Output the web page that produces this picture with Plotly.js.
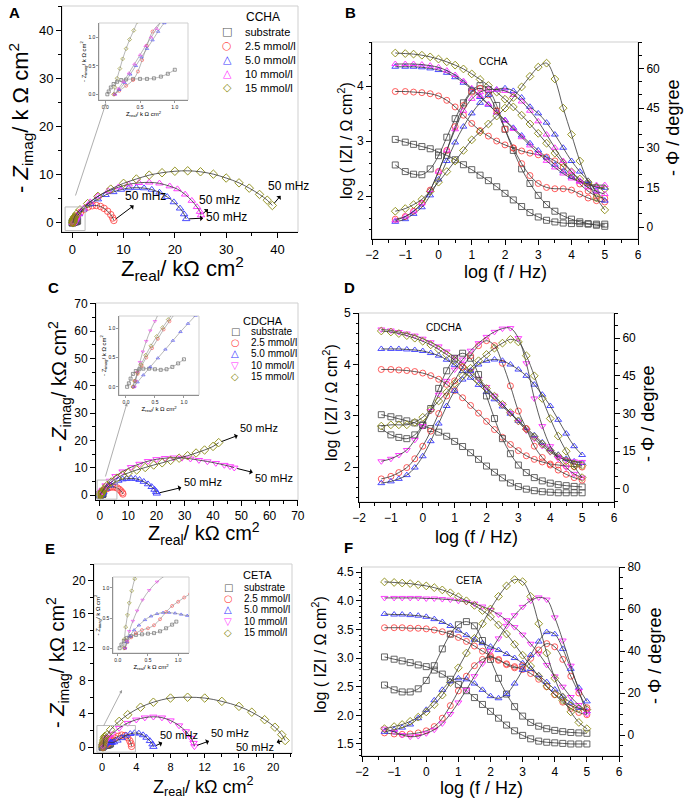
<!DOCTYPE html>
<html>
<head>
<meta charset="utf-8">
<script src="https://cdn.plot.ly/plotly-3.0.1.min.js"></script>
<style>html,body{margin:0;padding:0;background:#fff}#chart{width:687px;height:799px}</style>
</head>
<body>
<div id="chart"></div>
<script>
// ---- Bode data (log f grid shared by B, D, F) ----
const logF = [-1.3,-1,-0.75,-0.5,-0.25,0,0.25,0.5,0.75,1,1.25,1.5,1.75,2,2.25,2.5,2.75,3,3.25,3.5,3.75,4,4.25,4.5,4.75,5];

// B: CCHA
const bZsub = [3.03,2.98,2.94,2.9,2.86,2.8,2.74,2.66,2.57,2.48,2.38,2.28,2.17,2.05,1.93,1.81,1.7,1.62,1.56,1.53,1.51,1.5,1.5,1.49,1.49,1.49];
const bPsub = [23.5,21,20,19.8,22,27,34,41,47,51.5,53.5,52,46,37,29,22,16.5,12,8.5,6,4.2,3,2,1.3,0.7,0.3];
const bZ25 = [3.9,3.9,3.89,3.88,3.86,3.82,3.74,3.62,3.47,3.32,3.19,3.09,3.0,2.93,2.87,2.82,2.78,2.75,2.71,2.64,2.53,2.37,2.22,2.09,2.0,1.96];
const bP25 = [3,4,6,9,14,21,29,38,46,51,52.5,50,44,37,30,24,19.5,16.5,15,14.5,14.5,14,12.5,11,10,9.5];
const bZ50 = [4.35,4.35,4.35,4.34,4.32,4.29,4.24,4.16,4.06,3.94,3.8,3.66,3.52,3.38,3.24,3.1,2.96,2.83,2.7,2.57,2.45,2.35,2.27,2.21,2.17,2.15];
const bP50 = [2,3,5,7.5,12,18,25,32,38,43,47,50,52,52.5,51.5,49,45.5,43,39.5,35,30,25,21,17.5,13.5,10];
const bZ10 = [4.4,4.4,4.4,4.39,4.37,4.34,4.28,4.2,4.09,3.96,3.82,3.67,3.52,3.37,3.22,3.07,2.92,2.78,2.64,2.52,2.41,2.32,2.26,2.22,2.2,2.2];
const bP10 = [2.5,4,6,9,14,21,29,37,44,48.5,51,52,52,51.5,50,47.5,44,40,35,30,25,21,17.5,15,13.5,12.5];
const bZ15 = [4.6,4.59,4.58,4.56,4.53,4.49,4.44,4.38,4.31,4.22,4.12,4.01,3.89,3.76,3.62,3.47,3.31,3.14,2.96,2.78,2.6,2.44,2.31,2.22,2.16,2.13];
const bP15 = [6,7,8.5,10.5,13.5,17,21,25,29,33,36,39,42,45,49,53,57,60.5,62,56,45,35,25,17,11,6.5];

// D: CDCHA
const dZsub = [3.02,2.98,2.94,2.9,2.86,2.81,2.75,2.68,2.6,2.5,2.4,2.28,2.15,2.02,1.9,1.79,1.69,1.62,1.57,1.54,1.52,1.51,1.5,1.5,1.5,1.5];
const dPsub = [24,21.5,20.5,20,21.5,25.5,32,40,47,52,54,52,45.5,37,28,20,14,9.5,6.5,4.5,3.2,2.3,1.7,1.3,1,0.8];
const dZ25 = [3.9,3.9,3.89,3.88,3.86,3.83,3.78,3.71,3.61,3.49,3.35,3.2,3.05,2.89,2.73,2.58,2.44,2.32,2.22,2.15,2.1,2.06,2.04,2.02,2.01,2.0];
const dP25 = [4,5,6.5,8.5,12,17,23,30,37,43,48.5,53,57,59,57,50,41,31,24,17,12.5,9.5,7.5,5.8,4.5,3.5];
const dZ50 = [4.3,4.3,4.3,4.29,4.28,4.26,4.22,4.17,4.09,3.99,3.87,3.74,3.6,3.46,3.32,3.18,3.04,2.9,2.76,2.62,2.48,2.35,2.24,2.16,2.11,2.08];
const dP50 = [2.3,3,4,5.5,8.5,13,19,26,33,39,43.5,47,49.5,51,51.5,51,49.5,47.5,45,41.5,37.5,33,27.5,22,17,13.5];
const dZ10 = [4.68,4.66,4.63,4.6,4.56,4.5,4.43,4.35,4.25,4.14,4.01,3.87,3.72,3.56,3.39,3.22,3.05,2.88,2.71,2.55,2.41,2.29,2.2,2.14,2.11,2.1];
const dP10 = [11,12,13.5,15.5,19.5,25,31,37.5,43,47.5,51.5,55,58,60.5,62.5,63.8,64,60,50,36,25,17,12,8.5,6,4.5];
const dZ15 = [4.65,4.63,4.6,4.56,4.51,4.45,4.38,4.29,4.19,4.08,3.95,3.82,3.68,3.53,3.38,3.22,3.06,2.9,2.74,2.59,2.45,2.32,2.21,2.12,2.06,2.03];
const dP15 = [25,25.5,25.5,25.5,26.5,28.5,31.5,35,38.5,42,45,48,51,53.5,56,58,59.5,58.5,53,45,36,28,21,15,9,4.5];

// F: CETA
const fZsub = [3.02,2.98,2.95,2.92,2.88,2.85,2.79,2.72,2.63,2.54,2.43,2.31,2.19,2.07,1.95,1.83,1.73,1.65,1.59,1.55,1.53,1.52,1.51,1.5,1.5,1.5];
const fPsub = [23.8,21.5,20.5,20.5,22,26,33,41,48,52.5,54,52,45,36,27,19.5,13.5,9,6,4.2,3,2.2,1.6,1.2,1,0.8];
const fZ25 = [3.53,3.53,3.53,3.52,3.52,3.51,3.49,3.46,3.42,3.36,3.29,3.21,3.12,3.04,2.96,2.9,2.85,2.8,2.73,2.63,2.5,2.36,2.23,2.12,2.05,2.01];
const fP25 = [1,0.5,0.3,0.5,1,2,4,8,14,21,28,33,36,37,36,33.5,32,33,36.5,40.5,43.5,42,36,28,20,13];
const fZ50 = [3.77,3.76,3.76,3.75,3.74,3.72,3.68,3.63,3.56,3.48,3.4,3.32,3.26,3.2,3.14,3.07,3.0,2.91,2.81,2.7,2.58,2.45,2.33,2.22,2.13,2.07];
const fP50 = [1.5,2.5,3.5,5,8,12,16.5,21.5,25.5,27,26.5,24.5,21.5,18.5,17.5,19.5,24.5,31,38,44.5,49,48,41,31.5,22.5,16];
const fZ10 = [4.05,4.05,4.05,4.05,4.05,4.04,4.04,4.03,4.02,4.0,3.98,3.95,3.9,3.84,3.76,3.66,3.54,3.41,3.25,3.08,2.88,2.68,2.5,2.32,2.18,2.08];
const fP10 = [3,1.5,0,-0.8,-0.5,0.8,2.5,5.5,10,15.5,21.5,28,34,40,46,52,57,61,64,65.5,64.5,56,45,33,21,10];
const fZ15 = [4.33,4.32,4.31,4.3,4.28,4.26,4.23,4.19,4.14,4.07,4.0,3.92,3.83,3.72,3.58,3.42,3.24,3.05,2.86,2.68,2.51,2.37,2.26,2.17,2.12,2.1];
const fP15 = [3,4,5,6.5,8.5,11,14.5,19,25,32,39,46,53,60,66,71,74,73,66,53,39,27,18,11,6,3];

// ---- Nyquist data (k ohm cm2) ----
// A: CCHA
const aXsub = [0.03,0.05,0.08,0.12,0.17,0.23,0.3,0.4,0.5,0.6,0.7,0.8,0.9,1.0];
const aYsub = [0,0.05,0.12,0.18,0.22,0.25,0.26,0.27,0.27,0.27,0.28,0.31,0.36,0.43];
const aX25 = [0.13,0.2,0.3,0.4,0.47,0.53,0.6,0.68,1.0,1.6,2.3,3.1,3.9,4.7,5.5,6.2,6.9,7.5,7.9,8.1];
const aY25 = [0,0.06,0.15,0.25,0.4,0.6,0.85,1.1,1.5,2.2,2.8,3.3,3.55,3.6,3.4,3.0,2.4,1.7,1.0,0.5];
const aX50 = [0.14,0.2,0.28,0.36,0.44,0.52,0.6,0.68,0.76,0.85,1.3,2.2,3.5,5,6.5,8,9.5,11,12.5,14,15.5,17,18.5,19.8,21,21.8,22.2];
const aY50 = [0,0.08,0.2,0.35,0.5,0.65,0.8,0.95,1.1,1.25,1.8,2.8,3.9,4.9,5.8,6.4,6.9,7.2,7.3,7.2,6.9,6.3,5.4,4.3,3.0,1.8,0.8];
const aX10 = [0.14,0.19,0.26,0.34,0.42,0.5,0.58,0.66,0.74,0.82,1.3,2.2,3.5,5,7,9,11,13,15,17,19,20.5,22,23.3,24.3,24.9,25.1];
const aY10 = [0,0.1,0.22,0.37,0.53,0.69,0.85,1.0,1.15,1.3,1.9,3.0,4.3,5.5,6.6,7.4,8.0,8.3,8.4,8.2,7.6,7.0,5.9,4.6,3.3,2.3,1.6];
const aX15 = [0.12,0.14,0.17,0.21,0.25,0.3,0.35,0.41,0.47,0.8,1.5,3,5,7.5,10,12.5,15,17.5,20,22.5,25,27.5,30,32.5,34.5,36.5,38,39];
const aY15 = [0,0.12,0.28,0.45,0.62,0.8,0.96,1.12,1.28,1.8,2.7,4.0,5.5,7.0,8.2,9.1,9.9,10.4,10.7,10.8,10.6,10.1,9.3,8.3,7.2,5.9,4.7,3.6];

// C: CDCHA
const cXsub = [0.02,0.05,0.08,0.12,0.17,0.23,0.3,0.4,0.5,0.6,0.7,0.8,0.9,1.0];
const cYsub = [0,0.06,0.14,0.22,0.27,0.3,0.31,0.31,0.3,0.29,0.3,0.34,0.4,0.47];
const cX25 = [0.12,0.15,0.2,0.27,0.35,0.45,0.55,0.65,0.75,0.85,1.4,2.1,2.9,3.7,4.5,5.3,6.1,6.8,7.4,7.9,8.1];
const cY25 = [0,0.1,0.22,0.36,0.5,0.66,0.82,0.98,1.12,1.25,1.7,2.2,2.6,2.9,3.0,2.9,2.6,2.1,1.5,0.9,0.4];
const cX50 = [0.14,0.2,0.3,0.42,0.55,0.68,0.81,0.94,1.07,1.2,2.2,3.5,5,6.5,8,9.5,11,12.5,14,15.5,17,18.3,19.3,19.9,20.1];
const cY50 = [0,0.08,0.2,0.34,0.49,0.64,0.79,0.94,1.08,1.22,2.4,3.6,4.6,5.3,5.8,6.0,6.1,6.0,5.6,4.9,4.0,3.0,2.0,1.2,0.6];
const cX10 = [0.15,0.17,0.2,0.24,0.29,0.35,0.42,0.5,0.58,1,2,3.5,5.5,8,11,14,17,20,23,26,29,32,35,38,41,44,46,47.5];
const cY10 = [0,0.1,0.25,0.42,0.6,0.78,0.96,1.12,1.28,1.9,3.5,5.2,6.9,8.6,10.2,11.4,12.4,13.1,13.5,13.7,13.6,13.3,12.8,12.3,11.7,11.0,10.5,10.0];
const cX15 = [0.12,0.15,0.2,0.26,0.34,0.43,0.53,0.63,0.73,0.83,1.5,2.5,4,6,8,10,13,16,19,22,25,28,31,34,37,40,42];
const cY15 = [0,0.1,0.24,0.38,0.54,0.7,0.86,1.01,1.15,1.29,2.3,3.5,4.8,6.2,7.3,8.1,9.2,10.1,11,11.8,12.7,13.5,14.4,15.4,16.5,17.8,19.2];

// E: CETA
const eXsub = [0.03,0.06,0.1,0.15,0.22,0.3,0.4,0.5,0.6,0.7,0.8,0.9,0.97];
const eYsub = [0,0.06,0.12,0.17,0.2,0.22,0.23,0.24,0.25,0.28,0.33,0.39,0.44];
const eX25 = [0.12,0.16,0.22,0.3,0.4,0.5,0.6,0.7,0.8,0.9,1.0,1.1,1.2,1.5,1.9,2.3,2.7,3.0,3.25,3.4,3.45];
const eY25 = [0,0.1,0.18,0.25,0.3,0.33,0.38,0.48,0.6,0.7,0.77,0.84,0.9,1.1,1.3,1.45,1.4,1.15,0.75,0.4,0.1];
const eX50 = [0.12,0.15,0.2,0.27,0.35,0.45,0.55,0.65,0.75,0.85,0.95,1.05,1.15,1.4,1.8,2.3,2.8,3.3,3.8,4.3,4.8,5.2,5.6,5.9,6.0];
const eY50 = [0,0.1,0.2,0.3,0.38,0.47,0.53,0.57,0.59,0.59,0.58,0.56,0.54,0.6,0.8,1.1,1.4,1.6,1.7,1.65,1.45,1.15,0.75,0.35,0.05];
const eX10 = [0.12,0.15,0.19,0.25,0.32,0.41,0.52,0.65,0.8,1.2,2,3,4,5,6,7,8,9,9.8,10.4,10.7,10.8];
const eY10 = [0,0.12,0.28,0.45,0.62,0.8,0.96,1.1,1.22,1.6,2.3,2.9,3.3,3.55,3.65,3.55,3.2,2.6,1.9,1.1,0.5,0.1];
const eX15 = [0.1,0.11,0.13,0.16,0.19,0.23,0.28,0.33,0.6,1,2,3,4.5,6,8,10,12,14,16,17.5,19,20.2,21,21.4];
const eY15 = [0,0.15,0.35,0.55,0.75,0.95,1.15,1.3,1.5,2.1,3.1,3.9,4.8,5.4,5.9,6.0,5.9,5.5,4.9,4.2,3.3,2.4,1.5,0.8];

const seriesNames = ['substrate', '2.5 mmol/l', '5.0 mmol/l', '10 mmol/l', '15 mmol/l'];

// ---- styles ----
const W = 687, H = 799;
const FONT = 'Arial, "Liberation Sans", sans-serif';
const COL = ['#555555', '#ff4a4a', '#3a3aff', '#ff2bff', '#8a8a10'];
const SYM_UP = ['square-open', 'circle-open', 'triangle-up-open', 'triangle-up-open', 'diamond-open'];
const SYM_DN = ['square-open', 'circle-open', 'triangle-up-open', 'triangle-down-open', 'diamond-open'];
const GLY_UP = ['□', '○', '△', '△', '◇'];
const GLY_DN = ['□', '○', '△', '▽', '◇'];

function dx(a, b) { return [a / W, b / W]; }
function dy(t, b) { return [1 - b / H, 1 - t / H]; }
function px(x) { return x / W; }
function py(y) { return 1 - y / H; }

function series(xs, ys, i, sym, xa, ya, msize) {
    const small = msize < 4;
    return [
        {
            type: 'scatter', mode: 'markers', x: xs, y: ys, xaxis: xa, yaxis: ya,
            marker: { symbol: sym[i], size: msize, color: COL[i], line: { color: COL[i], width: small ? 0.6 : 0.9 } },
            hoverinfo: 'skip', showlegend: false
        },
        {
            type: 'scatter', mode: 'lines', x: xs, y: ys, xaxis: xa, yaxis: ya,
            line: { color: small ? '#888' : '#333', width: small ? 0.6 : 0.8, shape: 'spline' },
            hoverinfo: 'skip', showlegend: false
        }
    ];
}

const traces = [];
// Nyquist main + inset
function nyquist(sets, sym, xa, ya, xi, yi) {
    sets.forEach((s, i) => {
        traces.push(...series(s[0], s[1], i, sym, xa, ya, 6.5));
        traces.push(...series(s[0], s[1], i, sym, xi, yi, 3));
    });
}
nyquist([[aXsub, aYsub], [aX25, aY25], [aX50, aY50], [aX10, aY10], [aX15, aY15]], SYM_UP, 'x', 'y', 'x2', 'y2');
nyquist([[cXsub, cYsub], [cX25, cY25], [cX50, cY50], [cX10, cY10], [cX15, cY15]], SYM_DN, 'x4', 'y5', 'x5', 'y6');
nyquist([[eXsub, eYsub], [eX25, eY25], [eX50, eY50], [eX10, eY10], [eX15, eY15]], SYM_DN, 'x7', 'y9', 'x8', 'y10');

// Bode: |Z| on left axis, phase on right axis
function bode(zs, ps, sym, xa, yl, yr) {
    zs.forEach((z, i) => traces.push(...series(logF, z, i, sym, xa, yl, 6)));
    ps.forEach((p, i) => traces.push(...series(logF, p, i, sym, xa, yr, 6)));
}
bode([bZsub, bZ25, bZ50, bZ10, bZ15], [bPsub, bP25, bP50, bP10, bP15], SYM_UP, 'x3', 'y3', 'y4');
bode([dZsub, dZ25, dZ50, dZ10, dZ15], [dPsub, dP25, dP50, dP10, dP15], SYM_DN, 'x6', 'y7', 'y8');
bode([fZsub, fZ25, fZ50, fZ10, fZ15], [fPsub, fP25, fP50, fP10, fP15], SYM_DN, 'x9', 'y11', 'y12');

// ---- axes ----
function ax(o) {
    return Object.assign({
        showgrid: false, zeroline: false, showline: true, linecolor: '#000', linewidth: 1,
        ticks: 'outside', ticklen: 5, tickwidth: 1, tickcolor: '#000',
        tickfont: { family: FONT, size: 12, color: '#000' }, fixedrange: true
    }, o);
}
function inset(o) {
    return ax(Object.assign({
        linecolor: '#555', linewidth: 0.6, ticklen: 2, tickwidth: 0.6, tickcolor: '#555',
        dtick: 0.5, tick0: 0, tickformat: '.1f', tickfont: { family: FONT, size: 5, color: '#222' }
    }, o));
}
function ttl(text, size, standoff) {
    return { text: text, font: { family: FONT, size: size, color: '#000' }, standoff: standoff };
}
const minor = (d, len) => ({ ticks: 'outside', ticklen: len || 3, dtick: d, tickcolor: '#000' });

const zReal = 'Z<sub>real</sub>/ kΩ cm<sup>2</sup>';
const zImag = '- <i>Z</i><sub>imag</sub>/ kΩ cm<sup>2</sup>';
const logZ = 'log ( IZI / Ω cm<sup>2</sup>)';
const phase = '- Φ / degree';
const logf = 'log (f / Hz)';

const layout = {
    width: W, height: H,
    margin: { l: 0, r: 0, t: 0, b: 0 },
    paper_bgcolor: '#fff', plot_bgcolor: 'rgba(0,0,0,0)',
    showlegend: false,
    font: { family: FONT, color: '#000' },

    // A
    xaxis: ax({ domain: dx(62, 298), anchor: 'y', range: [-2, 44], dtick: 10, tick0: 0, minor: minor(5), tickfont: { family: FONT, size: 13 } }),
    yaxis: ax({ domain: dy(6, 232), anchor: 'x', range: [-1.9, 45], dtick: 10, tick0: 0, minor: minor(5), tickfont: { family: FONT, size: 13 } }),
    xaxis2: inset({ domain: dx(99, 188), anchor: 'y2', range: [-0.09, 1.19], title: ttl('Z<sub>real</sub>/ k Ω cm<sup>2</sup>', 6, 1) }),
    yaxis2: inset({ domain: dy(23, 100), anchor: 'x2', range: [-0.1, 1.25], title: ttl('- Z<sub>imag</sub>/ k Ω cm<sup>2</sup>', 6, 1) }),

    // B
    xaxis3: ax({ domain: dx(372, 638), anchor: 'y3', range: [-2, 6], dtick: 1, minor: minor(0.5) }),
    yaxis3: ax({ domain: dy(42, 239), anchor: 'x3', range: [1.22, 4.8], dtick: 1, minor: minor(0.2, 2) }),
    yaxis4: ax({ overlaying: 'y3', anchor: 'x3', side: 'right', range: [-4.5, 70], dtick: 15, minor: minor(5) }),

    // C
    xaxis4: ax({ domain: dx(96, 298), anchor: 'y5', range: [-1.4, 70.05], dtick: 10, tick0: 0, minor: minor(5) }),
    yaxis5: ax({ domain: dy(303, 500), anchor: 'x4', range: [-1.8, 70.3], dtick: 10, tick0: 0, minor: minor(5) }),
    xaxis5: inset({ domain: dx(119, 199), anchor: 'y6', range: [-0.12, 1.26], title: ttl('Z<sub>real</sub>/ k Ω cm<sup>2</sup>', 6, 1) }),
    yaxis6: inset({ domain: dy(316, 395), anchor: 'x5', range: [-0.14, 1.21], title: ttl('- Z<sub>imag</sub>/ k Ω cm<sup>2</sup>', 6, 1) }),

    // D
    xaxis6: ax({ domain: dx(359, 614), anchor: 'y7', range: [-2, 6], dtick: 1, minor: minor(0.5) }),
    yaxis7: ax({ domain: dy(313, 502), anchor: 'x6', range: [1.32, 5.0], dtick: 1, minor: minor(0.2, 2) }),
    yaxis8: ax({ overlaying: 'y7', anchor: 'x6', side: 'right', range: [-5.2, 70], dtick: 15, minor: minor(5) }),

    // E
    xaxis7: ax({ domain: dx(94, 292), anchor: 'y9', range: [-0.94, 22.2], dtick: 4, tick0: 0, ticklen: 4, minor: minor(2), tickfont: { family: FONT, size: 11 } }),
    yaxis9: ax({ domain: dy(564, 753), anchor: 'x7', range: [-0.7, 22], dtick: 4, tick0: 0, minor: minor(2) }),
    xaxis8: inset({ domain: dx(113, 189), anchor: 'y10', range: [-0.08, 1.18], title: ttl('Z<sub>real</sub>/ k Ω cm<sup>2</sup>', 6, 1) }),
    yaxis10: inset({ domain: dy(577, 653), anchor: 'x8', range: [-0.08, 1.18], title: ttl('- Z<sub>imag</sub>/ k Ω cm<sup>2</sup>', 6, 1) }),

    // F
    xaxis9: ax({ domain: dx(362, 619), anchor: 'y11', range: [-2, 6], dtick: 1, minor: minor(0.5) }),
    yaxis11: ax({ domain: dy(567, 756), anchor: 'x9', range: [1.29, 4.59], dtick: 0.5, tickformat: '.1f', minor: minor(0.1, 2) }),
    yaxis12: ax({ overlaying: 'y11', anchor: 'x9', side: 'right', range: [-10, 80], dtick: 20, minor: minor(5) })
};

// light frames (top/right) around each plot area, plus zoom boxes
const frames = [['x', 'y'], ['x2', 'y2'], ['x3', 'y3'], ['x4', 'y5'], ['x5', 'y6'], ['x6', 'y7'], ['x7', 'y9'], ['x8', 'y10'], ['x9', 'y11']];
layout.shapes = frames.map(f => ({
    type: 'rect', xref: f[0] + ' domain', yref: f[1] + ' domain', x0: 0, x1: 1, y0: 0, y1: 1,
    line: { color: '#cfcfcf', width: 1 }, layer: 'below'
}));
layout.shapes.push(
    { type: 'rect', xref: 'x', yref: 'y', x0: -1.4, x1: 2.5, y0: -1.6, y1: 3.3, line: { color: '#bbb', width: 1 } },
    { type: 'rect', xref: 'x4', yref: 'y5', x0: -1, x1: 6, y0: -1.5, y1: 5.5, line: { color: '#bbb', width: 1 } },
    { type: 'rect', xref: 'x7', yref: 'y9', x0: -0.6, x1: 3.9, y0: -0.6, y1: 2.6, line: { color: '#bbb', width: 1 } }
);

// ---- annotations ----
const ann = [];
function txt(x, y, text, size, opts) {
    ann.push(Object.assign({ xref: 'paper', yref: 'paper', x: px(x), y: py(y), text: text, showarrow: false,
        font: { family: FONT, size: size, color: '#000' }, xanchor: 'center', yanchor: 'middle' }, opts || {}));
}
const vert = { textangle: -90 };

// axis titles, placed where the reference has them
txt(182, 268, zReal, 22);
txt(20, 118, '- <i>Z</i><sub>imag</sub>/ k Ω cm<sup>2</sup>', 22, vert);
txt(505, 272, logf, 18);
txt(345, 140, logZ, 16, vert);
txt(673, 128, phase, 18, vert);
txt(204, 533, zReal, 20);
txt(60, 387, zImag, 20, vert);
txt(477, 537, logf, 18);
txt(330, 403, logZ, 16, vert);
txt(648, 414, phase, 18, vert);
txt(203, 786, zReal, 18);
txt(57, 663, zImag, 20, vert);
txt(481, 788, logf, 18);
txt(319, 655, logZ, 16, vert);
txt(655, 656, phase, 18, vert);

// panel letters
[['A', 14, 13], ['B', 350, 13], ['C', 53, 288], ['D', 349, 288], ['E', 50, 548], ['F', 348, 547]]
    .forEach(p => txt(p[1], p[2], '<b>' + p[0] + '</b>', 15));

// legends
function legend(title, tx, ty, symX, labX, ys, gly, size) {
    txt(tx, ty, title, size + 1);
    seriesNames.forEach((n, i) => {
        txt(symX, ys[i], gly[i], size, { font: { family: 'DejaVu Sans', size: size, color: COL[i] } });
        txt(labX, ys[i], n, size, { xanchor: 'left' });
    });
}
legend('CCHA', 263, 17, 227, 243, [32, 46, 60, 74, 88], GLY_UP, 11);
legend('CDCHA', 263, 321, 235, 249, [331, 342, 353, 365, 377], GLY_DN, 10);
legend('CETA', 257, 575, 228, 242, [587, 598, 609, 621, 632], GLY_DN, 10);

// Bode inner labels
txt(493, 61, 'CCHA', 10);
txt(444, 327, 'CDCHA', 10);
txt(469, 580, 'CETA', 10);

// "50 mHz" markers at the lowest frequency point of each curve
const last = a => a[a.length - 1];
function mhz(xr, yr, xs, ys, axp, ayp, size) {
    ann.push({ xref: xr, yref: yr, x: last(xs), y: last(ys), ax: axp, ay: ayp, text: '50 mHz',
        showarrow: true, arrowside: 'start', arrowhead: 2, arrowsize: 0.9, arrowwidth: 1, arrowcolor: '#000',
        standoff: 3, startstandoff: 1, font: { family: FONT, size: size, color: '#000' } });
}
mhz('x', 'y', aX25, aY25, 32, -24, 12);
mhz('x', 'y', aX10, aY10, 18, -15, 12);
mhz('x', 'y', aX50, aY50, 40, -2, 12);
mhz('x', 'y', aX15, aY15, 16, -19, 12);
mhz('x4', 'y5', cX15, cY15, 40, -15, 11);
mhz('x4', 'y5', cX10, cY10, 40, 10, 11);
mhz('x4', 'y5', cX50, cY50, 46, -11, 11);
mhz('x7', 'y9', eX50, eY50, 26, -12, 11);
mhz('x7', 'y9', eX10, eY10, 36, -13, 11);
mhz('x7', 'y9', eX15, eY15, -30, 6, 11);

// arrows from zoom boxes to insets
[[106, 103, -31, 94], [127, 403, -22, 75], [122, 690, -19, 37]].forEach(a => {
    ann.push({ xref: 'paper', yref: 'paper', x: px(a[0]), y: py(a[1]), ax: a[2], ay: a[3], text: '',
        showarrow: true, arrowhead: 2, arrowsize: 0.8, arrowwidth: 0.8, arrowcolor: '#999' });
});
layout.annotations = ann;

Plotly.newPlot('chart', traces, layout, { displayModeBar: false, staticPlot: true });
</script>
</body>
</html>
